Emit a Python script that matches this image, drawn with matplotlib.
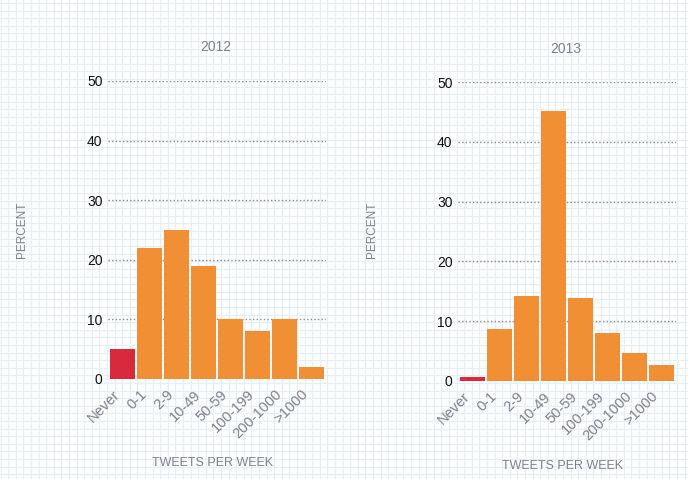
import matplotlib
matplotlib.use("Agg")
import matplotlib.pyplot as plt
import matplotlib.transforms as mtransforms
import numpy as np

categories = ["Never", "0-1", "2-9", "10-49", "50-59", "100-199", "200-1000", ">1000"]
values_2012 = [5, 22, 25, 19, 10, 8, 10, 2]
values_2013 = [0.7, 8.7, 14.2, 45.2, 13.9, 8.1, 4.6, 2.6]
years = ["2012", "2013"]
yticks = [0, 10, 20, 30, 40, 50]

RED = "#d92a3c"
ORANGE = "#f08f33"
TXT_GRAY = "#80808c"

plt.rcParams["font.family"] = ["Liberation Sans", "DejaVu Sans"]

W, H = 688, 479
fig = plt.figure(figsize=(W / 100, H / 100), dpi=100)
fig.patch.set_facecolor("white")

# graph-paper background
bg = fig.add_axes([0, 0, 1, 1])
bg.set_xlim(0, W)
bg.set_ylim(H, 0)
bg.axis("off")
step = 7.6
for x in np.arange(0.5, W, step):
    bg.axvline(x, color="#e6eff6", lw=0.9, zorder=0)
for y in np.arange(3.0, H, step):
    bg.axhline(y, color="#e6eff6", lw=0.9, zorder=0)

panels = [
    (values_2012, (108, 326, 379, 81), (216, 47), 22, (213, 463)),
    (values_2013, (458, 676, 381, 82), (566, 49), 372, (563, 466)),
]

for (vals, (x0, x1, yb, yt), tpos, ylx, xlpos), year in zip(panels, years):
    ax = fig.add_axes([x0 / W, 1 - yb / H, (x1 - x0) / W, (yb - yt) / H])
    ax.patch.set_alpha(0)
    xs = np.arange(len(categories))
    colors = [RED] + [ORANGE] * (len(categories) - 1)
    ax.bar(xs, vals, width=0.925, color=colors, zorder=3)
    ax.set_xlim(-0.55, len(categories) - 0.45)
    ax.set_ylim(0, 50)
    ax.set_yticks(yticks)
    ax.set_yticklabels([str(t) for t in yticks], fontsize=10, color="#111111")
    ax.set_xticks(xs)
    ax.set_xticklabels(categories, rotation=45, ha="right", fontsize=10.5,
                       color=TXT_GRAY)
    offset = mtransforms.ScaledTranslation(4 / 100, 0, fig.dpi_scale_trans)
    for lab in ax.get_xticklabels():
        lab.set_transform(lab.get_transform() + offset)
    ax.tick_params(length=0, pad=4)
    ax.tick_params(axis="x", pad=6)
    for s in ax.spines.values():
        s.set_visible(False)
    ax.yaxis.grid(True, color="#8a8a8a", linestyle=(0, (1, 1.6)), lw=1.0, zorder=1)
    ax.xaxis.grid(False)
    ax.set_axisbelow(True)
    fig.text(tpos[0] / W, 1 - tpos[1] / H, year, ha="center", va="center",
             fontsize=10, color=TXT_GRAY)
    fig.text(ylx / W, 1 - 230 / H, "PERCENT", rotation=90, ha="center",
             va="center", fontsize=8.5, color=TXT_GRAY)
    fig.text(xlpos[0] / W, 1 - xlpos[1] / H, "TWEETS PER WEEK", ha="center",
             va="center", fontsize=9, color=TXT_GRAY)

fig.savefig("out.png", dpi=100, facecolor="white")
